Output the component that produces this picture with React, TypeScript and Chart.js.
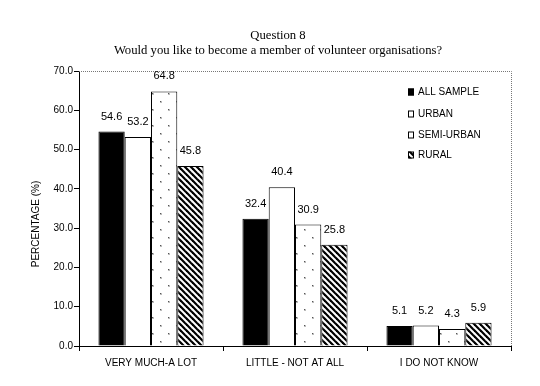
import React, { useEffect, useRef } from "react";
import { Chart, registerables } from "chart.js";
Chart.register(...registerables);

const categories = ["VERY MUCH-A LOT", "LITTLE - NOT AT ALL", "I DO NOT KNOW"];
const seriesNames = ["ALL SAMPLE", "URBAN", "SEMI-URBAN", "RURAL"];
const allSample = [54.6, 32.4, 5.1];
const urban = [53.2, 40.4, 5.2];
const semiUrban = [64.8, 30.9, 4.3];
const rural = [45.8, 25.8, 5.9];
const yMin = 0;
const yMax = 70;
const yStep = 10;
const titleLines = ["Question 8", "Would you like to become a member of volunteer organisations?"];
const yTitle = "PERCENTAGE (%)";

const SANS = "'Liberation Sans', Arial, sans-serif";
const SERIF = "'Liberation Serif', 'Times New Roman', serif";

function makeDotPattern(ctx: CanvasRenderingContext2D) {
  const c = document.createElement("canvas");
  c.width = 16;
  c.height = 16;
  const g = c.getContext("2d")!;
  g.fillStyle = "#fff";
  g.fillRect(0, 0, 16, 16);
  g.fillStyle = "#bbb";
  g.fillRect(0, 5, 2, 2);
  g.fillRect(8, 13, 2, 2);
  g.fillStyle = "#555";
  g.fillRect(0, 5, 1, 1);
  g.fillRect(8, 13, 1, 1);
  return ctx.createPattern(c, "repeat")!;
}

function makeHatchPattern(ctx: CanvasRenderingContext2D) {
  const s = 6;
  const c = document.createElement("canvas");
  c.width = s;
  c.height = s;
  const g = c.getContext("2d")!;
  g.fillStyle = "#fff";
  g.fillRect(0, 0, s, s);
  g.strokeStyle = "#000";
  g.lineWidth = 2.2;
  for (const k of [-s, 0, s]) {
    g.beginPath();
    g.moveTo(k - 1, -1);
    g.lineTo(k + s + 1, s + 1);
    g.stroke();
  }
  return ctx.createPattern(c, "repeat")!;
}

export default function App() {
  const ref = useRef<HTMLCanvasElement | null>(null);

  useEffect(() => {
    document.body.style.margin = "0";
    const canvas = ref.current!;
    const ctx = canvas.getContext("2d")!;
    const dot = makeDotPattern(ctx);
    const hatch = makeHatchPattern(ctx);
    const fills: (string | CanvasPattern)[] = ["#000", "#fff", dot, hatch];
    const series = [allSample, urban, semiUrban, rural];

    const overlay = {
      id: "overlay",
      afterDraw(chart: any) {
        const c = chart.ctx as CanvasRenderingContext2D;
        const a = chart.chartArea;
        c.save();
        // dotted frame top & right
        c.strokeStyle = "#777";
        c.lineWidth = 1;
        c.setLineDash([1, 1]);
        c.beginPath();
        c.moveTo(a.left, a.top + 0.5);
        c.lineTo(a.right + 0.5, a.top + 0.5);
        c.lineTo(a.right + 0.5, a.bottom);
        c.stroke();
        c.setLineDash([]);

        // title
        c.fillStyle = "#000";
        c.textAlign = "center";
        c.textBaseline = "middle";
        c.font = `12.7px ${SERIF}`;
        c.fillText(titleLines[0], 278, 36);
        c.fillText(titleLines[1], 278, 51);

        // y title
        c.save();
        c.translate(36, 224);
        c.rotate(-Math.PI / 2);
        c.font = `10px ${SANS}`;
        c.fillText(yTitle, 0, 0);
        c.restore();

        // data labels
        c.font = `11px ${SANS}`;
        chart.data.datasets.forEach((ds: any, di: number) => {
          const meta = chart.getDatasetMeta(di);
          meta.data.forEach((el: any, i: number) => {
            c.fillText(Number(ds.data[i]).toFixed(1), el.x, el.y - 15);
          });
        });

        // legend
        c.textAlign = "left";
        c.font = `10px ${SANS}`;
        const rowsY = [92, 114, 135, 155];
        seriesNames.forEach((name, i) => {
          const y = rowsY[i];
          c.fillStyle = fills[i] as any;
          c.fillRect(408, y - 3.5, 6, 7);
          c.strokeStyle = "#000";
          c.lineWidth = 1;
          c.strokeRect(408.5, y - 3, 5, 6);
          c.fillStyle = "#000";
          c.fillText(name, 418, y);
        });
        c.restore();
      },
    };

    const chart = new Chart(canvas, {
      type: "bar",
      data: {
        labels: categories,
        datasets: series.map((d, i) => ({
          label: seriesNames[i],
          data: d,
          backgroundColor: fills[i] as any,
          borderColor: "#000",
          borderWidth: 1,
          categoryPercentage: 0.73,
          barPercentage: 1,
        })),
      },
      options: {
        responsive: false,
        animation: false,
        devicePixelRatio: 1,
        layout: { padding: { top: 71, right: 29, left: 0, bottom: 0 } },
        plugins: {
          legend: { display: false },
          tooltip: { enabled: false },
          title: { display: false },
        },
        scales: {
          x: {
            grid: {
              display: true,
              drawOnChartArea: false,
              drawTicks: true,
              tickLength: 5,
              color: "#000",
              offset: true,
            },
            border: { display: true, color: "#000" },
            ticks: {
              color: "#000",
              font: { family: SANS, size: 10 },
              padding: 6,
              maxRotation: 0,
            },
            afterFit: (s: any) => {
              s.height = 40;
            },
          },
          y: {
            min: yMin,
            max: yMax,
            grid: {
              display: true,
              drawOnChartArea: false,
              drawTicks: true,
              tickLength: 5,
              color: "#000",
            },
            border: { display: true, color: "#000" },
            ticks: {
              stepSize: yStep,
              color: "#000",
              font: { family: SANS, size: 10 },
              padding: 1,
              callback: (v: any) => Number(v).toFixed(1),
            },
            afterFit: (s: any) => {
              s.width = 79;
            },
          },
        },
      },
      plugins: [overlay],
    });
    return () => chart.destroy();
  }, []);

  return (
    <div style={{ width: 540, height: 386, background: "#fff" }}>
      <canvas ref={ref} width={540} height={386} style={{ display: "block" }} />
    </div>
  );
}
